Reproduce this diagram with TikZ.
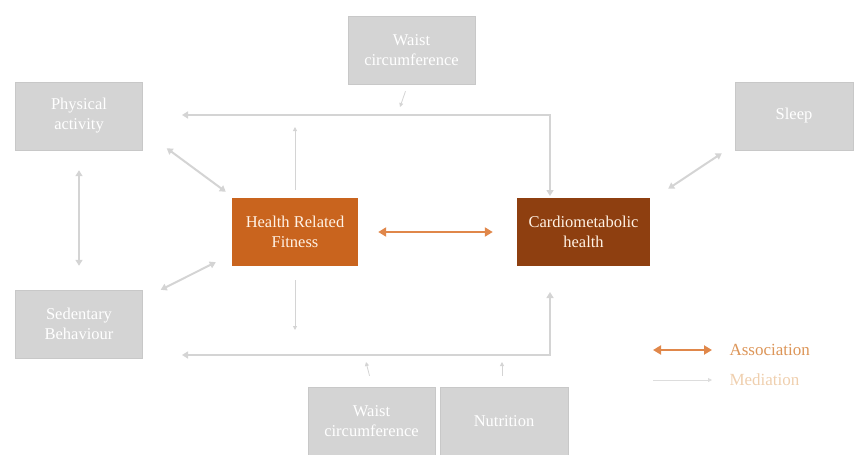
\documentclass[tikz,border=0pt]{standalone}
\usepackage{fontspec}
\setmainfont{Liberation Serif}
\usetikzlibrary{arrows.meta,calc}
\definecolor{boxgray}{HTML}{D4D4D4}
\definecolor{boxedge}{HTML}{C8C8C8}
\definecolor{linegray}{HTML}{D4D4D4}
\definecolor{hrfcol}{HTML}{C9641E}
\definecolor{cmcol}{HTML}{8E3F10}
\definecolor{assoc}{HTML}{E0874A}
\definecolor{assoctext}{HTML}{DC9558}
\definecolor{medtext}{HTML}{EFCFAE}
\tikzset{
  gbox/.style={draw=boxedge, fill=boxgray, text=white, minimum width=127pt, minimum height=68pt, align=center, inner sep=2pt, font=\fontsize{16.5}{20}\selectfont},
  obox/.style={fill=hrfcol, text=white!90!orange, minimum width=126pt, minimum height=68pt, align=center, inner sep=2pt, font=\fontsize{16.5}{20}\selectfont},
  conn/.style={draw=linegray, line width=2pt, {Triangle[length=6pt,width=7pt]}-{Triangle[length=6pt,width=7pt]}},
  med/.style={draw=linegray, line width=0.8pt, -{Triangle[length=4pt,width=4pt]}},
  assocarrow/.style={draw=assoc, line width=2.2pt, {Triangle[length=8pt,width=9pt]}-{Triangle[length=8pt,width=9pt]}},
  legtext/.style={anchor=west, font=\fontsize{17}{20}\selectfont}
}
\begin{document}
\begin{tikzpicture}[x=1pt,y=-1pt]
\useasboundingbox (0,0) rectangle (854,455);
% boxes
\node[gbox] (wtop) at (411.5,50) {Waist\\circumference};
\node[gbox] (pa) at (79,116) {Physical\\activity};
\node[gbox, minimum width=118pt] (sleep) at (794,116) {Sleep};
\node[gbox] (sb) at (79,324) {Sedentary\\Behaviour};
\node[obox] (hrf) at (295,232) {Health Related\\Fitness};
\node[obox, fill=cmcol, minimum width=133pt] (cm) at (583.5,232) {Cardiometabolic\\health};
\node[gbox] (wbot) at (371.5,421) {Waist\\circumference};
\node[gbox, minimum width=128pt] (nut) at (504,421) {Nutrition};
% coordinates for the mediation lines
\coordinate (tl) at (182,115);
\coordinate (tr) at (550,115);
\coordinate (tcm) at (550,196);
\coordinate (bl) at (182,355);
\coordinate (br) at (550,355);
\coordinate (bcm) at (550,292);
\coordinate (hup) at (295,127);
\coordinate (hdn) at (295,330);
\coordinate (wtl) at (400,107);
\coordinate (wbl) at (366,362);
\coordinate (nbl) at (502,362);
% connectors
\draw[conn] (tl) -- (tr) -- (tcm);
\draw[conn] (bl) -- (br) -- (bcm);
\draw[conn] ($(pa.south)+(0,20)$) -- ($(sb.north)+(0,-24)$);
\draw[conn] ($(pa.south east)+(24,-2)$) -- ($(hrf.north west)+(-6,-6)$);
\draw[conn] ($(sb.north east)+(18,0)$) -- ($(hrf.south west)+(-16,-4)$);
\draw[conn] ($(sleep.south west)+(-13,3)$) -- ($(cm.north east)+(18,-9)$);
\draw[assocarrow] ($(hrf.east)+(20,0)$) -- ($(cm.west)+(-24,0)$);
% mediation arrows
\draw[med] ($(hrf.north)+(0,-8)$) -- (hup);
\draw[med] ($(hrf.south)+(0,14)$) -- (hdn);
\draw[med] ($(wtop.south)+(-6,7)$) -- (wtl);
\draw[med] ($(wbot.north)+(-2,-11)$) -- (wbl);
\draw[med] ($(nut.north)+(-2,-11)$) -- (nbl);
% legend
\coordinate (la1) at (653,350);
\coordinate (la2) at (712,350);
\draw[assocarrow] (la1) -- (la2);
\node[legtext, text=assoctext] (assoclabel) at (726,350) {Association};
\coordinate (lm1) at (653,380);
\coordinate (lm2) at (712,380);
\draw[med, draw=linegray!80] (lm1) -- (lm2);
\node[legtext, text=medtext] (medlabel) at (726,380) {Mediation};
\end{tikzpicture}
\end{document}
